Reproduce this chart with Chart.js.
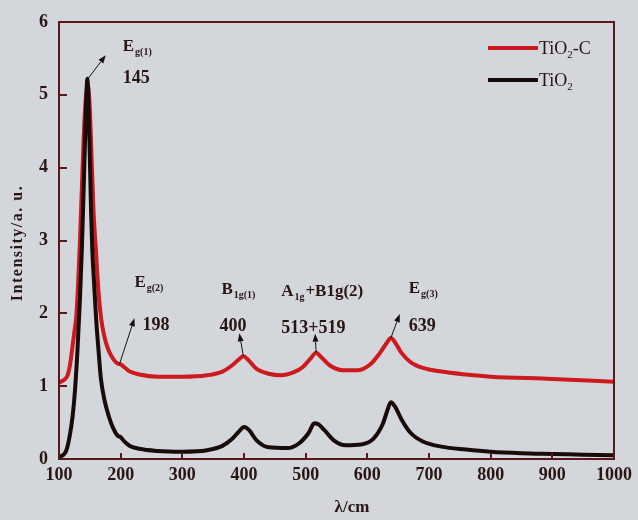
<!DOCTYPE html>
<html>
<head>
<meta charset="utf-8">
<script src="https://cdn.jsdelivr.net/npm/chart.js@4.4.1/dist/chart.umd.min.js"></script>
<style>
  html, body { margin: 0; padding: 0; background: #d3d7dc; }
  #wrap { width: 638px; height: 520px; position: relative; }
</style>
</head>
<body>
<div id="wrap"><canvas id="c" width="638" height="520"></canvas></div>
<script>
// ---------------- DATA ----------------
const seriesNames = ['TiO2-C', 'TiO2'];

const wavenumberTiO2 = [100,106,112,117,122,126,130,134,137,140,143,146,149,152,154,157,160,164,168,174,181,188,195,200,205,215,230,260,300,340,365,380,392,400,408,420,440,470,490,505,514,520,530,545,565,590,610,625,633,638,645,655,670,690,720,760,800,850,900,950,1000];
const intensityTiO2 = [0.03,0.05,0.12,0.3,0.58,0.95,1.5,2.2,2.87,3.7,4.6,5.22,4.5,3.4,2.87,2.4,1.95,1.5,1.1,0.8,0.58,0.42,0.32,0.3,0.25,0.18,0.14,0.11,0.1,0.12,0.18,0.27,0.38,0.44,0.4,0.26,0.16,0.15,0.22,0.36,0.49,0.48,0.4,0.26,0.19,0.2,0.28,0.48,0.68,0.78,0.72,0.55,0.36,0.24,0.17,0.13,0.1,0.08,0.07,0.06,0.05];

const wavenumberTiO2C = [100,105,110,114,118,122,125,128,131,134,137,140,143,147,150,153,156,160,164,168,173,180,189,195,200,206,215,230,260,300,340,365,380,392,399,407,420,440,460,480,495,507,517,525,540,560,585,605,620,632,638,645,655,670,690,720,760,800,900,1000];
const intensityTiO2C = [1.05,1.07,1.1,1.15,1.3,1.55,1.75,1.95,2.4,3.0,3.7,4.4,4.9,5.12,4.8,4.1,3.4,2.85,2.3,1.95,1.7,1.5,1.36,1.31,1.3,1.26,1.2,1.16,1.13,1.13,1.15,1.2,1.28,1.37,1.41,1.36,1.24,1.17,1.15,1.19,1.26,1.37,1.46,1.4,1.28,1.22,1.22,1.3,1.45,1.6,1.66,1.6,1.46,1.33,1.25,1.2,1.16,1.13,1.1,1.06];

const xTickValues = [100,200,300,400,500,600,700,800,900,1000];
const yTickValues = [0,1,2,3,4,5,6];

// peak annotations: name, wavenumber label, and the point on the curve the arrow starts from
const peakNames = ['E_{g(1)}', 'E_{g(2)}', 'B_{1g(1)}', 'A_{1g}+B1g(2)', 'E_{g(3)}'];
const peakNumbers = ['145', '198', '400', '513+519', '639'];
const peakArrowX = [145, 198, 399, 517, 638];
const peakArrowY = [5.2, 1.3, 1.41, 1.46, 1.66];

// ---------------- STYLE / LAYOUT ----------------
const TXT = '#2a1414';
const FRAME = '#5a1818';
const SERIF = '"Liberation Serif", "Times New Roman", serif';
const RED = '#cc1a1e';
const BLACK = '#1a0b0b';
// pixel offsets relative to arrow base: [tipDx, tipDy, nameDx, nameDy, numDx, numDy]
const annoLayout = [
  [19, -25, 36, -29, 36, 3],
  [15, -46, 15, -77, 23, -34],
  [-4, -23, -22, -62, -24, -25],
  [-1, -19, -35, -57, -35, -20],
  [9, -24, 18, -45, 18, -7]
];

function toPts(xs, ys) { return xs.map((x, i) => ({ x: x, y: ys[i] })); }

function drawRich(ctx, str, x, y, size) {
  const segs = [];
  const re = /_\{([^}]*)\}/g;
  let last = 0, m;
  while ((m = re.exec(str)) !== null) {
    if (m.index > last) segs.push([str.slice(last, m.index), false]);
    segs.push([m[1], true]);
    last = re.lastIndex;
  }
  if (last < str.length) segs.push([str.slice(last), false]);
  let cx = x;
  ctx.textAlign = 'left';
  ctx.textBaseline = 'alphabetic';
  for (const [t, sub] of segs) {
    if (sub) {
      ctx.font = 'bold ' + Math.round(size * 0.58) + 'px ' + SERIF;
      ctx.fillText(t, cx + 1, y + 4);
      cx += ctx.measureText(t).width + 2;
    } else {
      ctx.font = 'bold ' + size + 'px ' + SERIF;
      ctx.fillText(t, cx, y);
      cx += ctx.measureText(t).width;
    }
  }
}

function arrow(ctx, x0, y0, x1, y1) {
  ctx.save();
  ctx.strokeStyle = '#111';
  ctx.fillStyle = '#111';
  ctx.lineWidth = 1;
  const ang = Math.atan2(y1 - y0, x1 - x0);
  const hl = 8, hw = 3;
  const bx = x1 - hl * Math.cos(ang), by = y1 - hl * Math.sin(ang);
  ctx.beginPath(); ctx.moveTo(x0, y0); ctx.lineTo(bx, by); ctx.stroke();
  ctx.beginPath();
  ctx.moveTo(x1, y1);
  ctx.lineTo(bx + hw * Math.sin(ang), by - hw * Math.cos(ang));
  ctx.lineTo(bx - hw * Math.sin(ang), by + hw * Math.cos(ang));
  ctx.closePath(); ctx.fill();
  ctx.restore();
}

const decor = {
  id: 'decor',
  afterDraw(chart) {
    const ctx = chart.ctx;
    const a = chart.chartArea;
    const xs = chart.scales.x, ys = chart.scales.y;
    ctx.save();
    ctx.strokeStyle = FRAME;
    ctx.lineWidth = 2;
    ctx.strokeRect(a.left, a.top, a.right - a.left, a.bottom - a.top);
    ctx.beginPath();
    for (const v of xTickValues) {
      const px = Math.round(xs.getPixelForValue(v));
      ctx.moveTo(px, a.bottom); ctx.lineTo(px, a.bottom - 6);
    }
    for (const v of yTickValues) {
      const py = Math.round(ys.getPixelForValue(v));
      ctx.moveTo(a.left, py); ctx.lineTo(a.left + 8, py);
    }
    ctx.stroke();

    for (let i = 0; i < peakNames.length; i++) {
      const bx = xs.getPixelForValue(peakArrowX[i]);
      const by = ys.getPixelForValue(peakArrowY[i]);
      const L = annoLayout[i];
      arrow(ctx, bx, by, bx + L[0], by + L[1]);
      ctx.fillStyle = TXT;
      drawRich(ctx, peakNames[i], bx + L[2], by + L[3], 17);
      ctx.font = 'bold 18px ' + SERIF;
      ctx.textAlign = 'left';
      ctx.textBaseline = 'alphabetic';
      ctx.fillText(peakNumbers[i], bx + L[4], by + L[5]);
    }

    const legColors = [RED, BLACK];
    for (let i = 0; i < seriesNames.length; i++) {
      const ly = 48 + i * 32;
      ctx.strokeStyle = legColors[i];
      ctx.lineWidth = 4;
      ctx.beginPath(); ctx.moveTo(488, ly); ctx.lineTo(538, ly); ctx.stroke();
      ctx.fillStyle = TXT;
      const parts = seriesNames[i].split('2');
      let cx = 539;
      ctx.textBaseline = 'alphabetic';
      ctx.textAlign = 'left';
      ctx.font = '18px ' + SERIF;
      ctx.fillText(parts[0], cx, ly + 6); cx += ctx.measureText(parts[0]).width;
      ctx.font = '11px ' + SERIF;
      ctx.fillText('2', cx, ly + 10); cx += ctx.measureText('2').width;
      ctx.font = '18px ' + SERIF;
      if (parts[1]) ctx.fillText(parts[1], cx, ly + 6);
    }

    ctx.fillStyle = TXT;
    ctx.font = 'bold 17px ' + SERIF;
    ctx.textAlign = 'center';
    ctx.textBaseline = 'middle';
    ctx.fillText('λ/cm', 352, 508);
    ctx.save();
    ctx.translate(18, 243);
    ctx.rotate(-Math.PI / 2);
    ctx.font = 'bold 16px ' + SERIF;
    try { ctx.letterSpacing = '1.5px'; } catch (e) {}
    ctx.fillText('Intensity/a. u.', 0, 0);
    ctx.restore();
    ctx.restore();
  }
};

new Chart(document.getElementById('c'), {
  type: 'line',
  data: {
    datasets: [
      {
        label: seriesNames[1],
        data: toPts(wavenumberTiO2, intensityTiO2),
        borderColor: BLACK,
        borderWidth: 4,
        pointRadius: 0,
        fill: false,
        cubicInterpolationMode: 'monotone',
        order: 0
      },
      {
        label: seriesNames[0],
        data: toPts(wavenumberTiO2C, intensityTiO2C),
        borderColor: RED,
        borderWidth: 4,
        pointRadius: 0,
        fill: false,
        cubicInterpolationMode: 'monotone',
        order: 1
      }
    ]
  },
  options: {
    responsive: false,
    animation: false,
    layout: { padding: { top: 22, right: 12, left: 0, bottom: 0 } },
    plugins: { legend: { display: false }, tooltip: { enabled: false } },
    scales: {
      x: {
        type: 'linear', min: 100, max: 1000,
        afterBuildTicks: (s) => { s.ticks = xTickValues.map(v => ({ value: v })); },
        afterFit: (s) => { s.height = 61; },
        grid: { display: false, drawTicks: false },
        border: { display: false },
        ticks: { color: TXT, padding: 6, maxRotation: 0, autoSkip: false,
          callback: (v) => String(v),
          font: { family: SERIF, size: 18, weight: 'bold' } }
      },
      y: {
        type: 'linear', min: 0, max: 6,
        afterBuildTicks: (s) => { s.ticks = yTickValues.map(v => ({ value: v })); },
        afterFit: (s) => { s.width = 59; },
        grid: { display: false, drawTicks: false },
        border: { display: false },
        ticks: { color: TXT, padding: 11, autoSkip: false,
          callback: (v) => String(v),
          font: { family: SERIF, size: 18, weight: 'bold' } }
      }
    }
  },
  plugins: [decor]
});
</script>
</body>
</html>
